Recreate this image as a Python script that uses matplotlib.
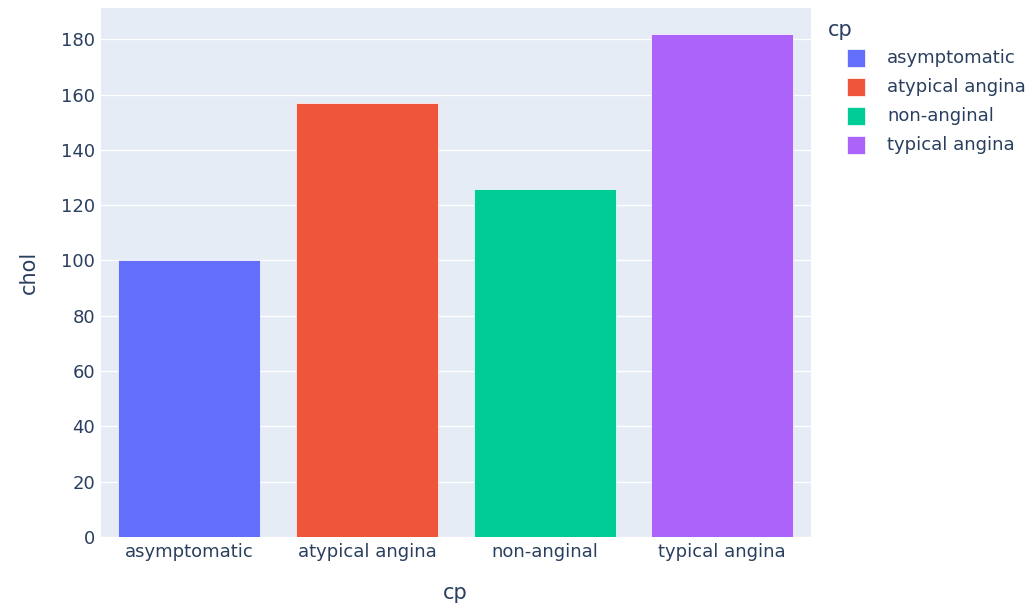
"""Bar chart of chol by chest pain type (cp), plotly-like style."""

import matplotlib

matplotlib.use("Agg")

import matplotlib.pyplot as plt
from matplotlib.patches import Rectangle

CATEGORIES = ["asymptomatic", "atypical angina", "non-anginal", "typical angina"]
CHOL = [100, 157, 126, 182]
COLORS = ["#636EFA", "#EF553B", "#00CC96", "#AB63FA"]
Y_TICKS = [0, 20, 40, 60, 80, 100, 120, 140, 160, 180]

TEXT_COLOR = "#2a3f5f"
BG_COLOR = "#E5ECF6"

plt.rcParams["font.family"] = ["DejaVu Sans"]

W, H = 1029, 605
fig = plt.figure(figsize=(W / 100, H / 100), dpi=100)
ax = fig.add_axes([100.5 / W, 68 / H, 710.5 / W, 529 / H])
ax.set_facecolor(BG_COLOR)

x = list(range(len(CATEGORIES)))
ax.bar(x, CHOL, width=0.8, color=COLORS, edgecolor="white", linewidth=0.5, zorder=3)

ax.set_xlim(-0.5, len(CATEGORIES) - 0.5)
ax.set_ylim(0, 191.3)
ax.set_xticks(x)
ax.set_xticklabels(CATEGORIES)
ax.set_yticks(Y_TICKS)
ax.grid(axis="y", color="white", linewidth=1, zorder=0)
ax.set_axisbelow(True)
for spine in ax.spines.values():
    spine.set_visible(False)
ax.tick_params(axis="both", length=0, labelsize=13, labelcolor=TEXT_COLOR)
ax.tick_params(axis="x", pad=4)
ax.tick_params(axis="y", pad=4)

ax.set_xlabel("cp", fontsize=15, color=TEXT_COLOR, labelpad=16)
ax.set_ylabel("chol", fontsize=15, color=TEXT_COLOR, labelpad=16)

# legend drawn by hand, plotly layout: title flush left, swatches indented
fig.text(828 / W, 1 - 30 / H, "cp", fontsize=15, color=TEXT_COLOR,
         ha="left", va="center")
for i, (color, label) in enumerate(zip(COLORS, CATEGORIES)):
    yc = 1 - (58 + 29 * i) / H
    fig.patches.append(Rectangle(
        (847 / W, yc - 9 / H), 18 / W, 18 / H,
        facecolor=color, edgecolor="white", linewidth=0.5,
        transform=fig.transFigure, figure=fig,
    ))
    fig.text(887 / W, yc, label, fontsize=13, color=TEXT_COLOR,
             ha="left", va="center")

fig.savefig("out.png", dpi=100)
plt.close(fig)
